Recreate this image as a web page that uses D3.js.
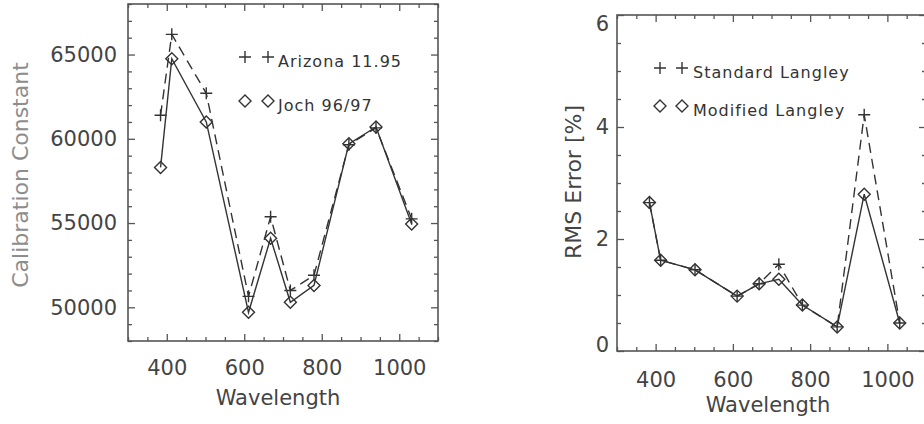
<!DOCTYPE html>
<html><head><meta charset="utf-8">
<script src="https://cdn.jsdelivr.net/npm/d3@7"></script>
<style>
html,body{margin:0;padding:0;background:#fff;}
svg{display:block;font-family:"DejaVu Sans",sans-serif;}
</style></head>
<body><svg id="c" width="924" height="424"></svg>
<script>
// ---- data ----
const wavelengths = [384, 413, 502, 611, 668, 719, 780, 870, 940, 1032];
const arizona     = [61400, 66200, 62700, 50650, 55370, 51000, 51900, 59650, 60650, 55250];
const joch        = [58300, 64750, 61000, 49700, 54100, 50300, 51300, 59700, 60700, 54950];
const standardLangley = [2.65, 1.62, 1.45, 0.98, 1.20, 1.55, 0.82, 0.43, 4.22, 0.50];
const modifiedLangley = [2.65, 1.62, 1.45, 0.98, 1.20, 1.28, 0.82, 0.43, 2.80, 0.50];
const xTicks = [400, 600, 800, 1000];
const leftYTicks = [50000, 55000, 60000, 65000];
const rightYTicks = [0, 2, 4, 6];
const leftLegend = ["Arizona 11.95", "Joch 96/97"];
const rightLegend = ["Standard Langley", "Modified Langley"];

const svg = d3.select("#c");
const ink = "#333", frameCol = "#555", textCol = "#444";

function panel(cfg){
  const g = svg.append("g");
  const x = d3.scaleLinear().domain([300,1100]).range([cfg.x0, cfg.x1]);
  const y = d3.scaleLinear().domain(cfg.ydom).range([cfg.y1, cfg.y0]);
  const minorX = d3.range(300, 1101, 50).filter(v => !xTicks.includes(v));
  const minorY = d3.range(cfg.ydom[0], cfg.ydom[1] + 1e-9, cfg.yminor).filter(v => !cfg.yticks.some(t => Math.abs(t - v) < 1e-9));
  const tickAxes = [
    [d3.axisBottom(x), cfg.y1, 0], [d3.axisTop(x), cfg.y0, 0],
    [d3.axisLeft(y), cfg.x0, 1], [d3.axisRight(y), cfg.x1, 1]
  ];
  tickAxes.forEach(([ax, pos, isY]) => {
    const major = isY ? cfg.yticks : xTicks;
    const minor = isY ? minorY : minorX;
    [[major, 7], [minor, 4]].forEach(([vals, len]) => {
      const a = ax.tickValues(vals).tickSize(-len).tickSizeOuter(0).tickFormat("");
      const gg = g.append("g").attr("transform", isY ? `translate(${pos},0)` : `translate(0,${pos})`).call(a);
      gg.select(".domain").remove();
      gg.selectAll("line").attr("stroke", frameCol).attr("stroke-width", 1.3);
    });
  });
  g.append("rect").attr("x", cfg.x0).attr("y", cfg.y0).attr("width", cfg.x1 - cfg.x0).attr("height", cfg.y1 - cfg.y0)
    .attr("fill", "none").attr("stroke", frameCol).attr("stroke-width", 1.6);
  // labels
  const xl = g.append("g").attr("transform", `translate(0,${cfg.y1})`)
    .call(d3.axisBottom(x).tickValues(xTicks).tickSize(0).tickPadding(cfg.xpad).tickFormat(d3.format("d")));
  xl.select(".domain").remove();
  xl.selectAll("text").attr("font-size", 21).attr("fill", textCol).attr("font-family", "DejaVu Sans");
  const yl = g.append("g").attr("transform", `translate(${cfg.x0},0)`)
    .call(d3.axisLeft(y).tickValues(cfg.yticks).tickSize(0).tickPadding(cfg.ypad).tickFormat(d3.format("d")));
  yl.select(".domain").remove();
  yl.selectAll("text").attr("font-size", 21).attr("fill", textCol).attr("font-family", "DejaVu Sans")
    .attr("transform", d => `translate(0,${(cfg.yshift && cfg.yshift[d]) || 0})`);
  // titles
  g.append("text").attr("x", cfg.xtx).attr("y", cfg.xty).attr("text-anchor", "middle")
    .attr("font-size", 21).attr("fill", textCol).text("Wavelength");
  g.append("text").attr("transform", `translate(${cfg.ytx},${cfg.yty}) rotate(-90)`).attr("text-anchor", "middle")
    .attr("dy", "0.35em").attr("font-size", 22).attr("fill", cfg.ytCol).text(cfg.ytitle);
  // lines
  const line = d3.line().x((d, i) => x(wavelengths[i])).y(d => y(d));
  g.append("path").datum(cfg.s1).attr("d", line).attr("fill", "none").attr("stroke", ink)
    .attr("stroke-width", 1.4).attr("stroke-dasharray", "10,6");
  g.append("path").datum(cfg.s2).attr("d", line).attr("fill", "none").attr("stroke", ink).attr("stroke-width", 1.4);
  const plus = (sel, cx, cy) => sel.append("path").attr("d", `M${cx-6},${cy}H${cx+6}M${cx},${cy-6}V${cy+6}`)
    .attr("stroke", ink).attr("stroke-width", 1.4).attr("fill", "none");
  const diam = (sel, cx, cy) => sel.append("path").attr("d", `M${cx},${cy-6}L${cx+6},${cy}L${cx},${cy+6}L${cx-6},${cy}Z`)
    .attr("stroke", ink).attr("stroke-width", 1.4).attr("fill", "none");
  cfg.s1.forEach((v, i) => plus(g, x(wavelengths[i]), y(v)));
  cfg.s2.forEach((v, i) => diam(g, x(wavelengths[i]), y(v)));
  // legend
  const L = cfg.leg;
  [[L.x1, L.ya], [L.x2, L.ya]].forEach(([lx, ly]) => plus(g, lx, ly));
  [[L.x1, L.yb], [L.x2, L.yb]].forEach(([lx, ly]) => diam(g, lx, ly));
  g.append("text").attr("x", L.tx).attr("y", L.ya + 10).attr("font-size", 16).attr("letter-spacing", "1px")
    .attr("fill", ink).text(cfg.legText[0]);
  g.append("text").attr("x", L.tx).attr("y", L.yb + 10).attr("font-size", 16).attr("letter-spacing", "1px")
    .attr("fill", ink).text(cfg.legText[1]);
}

panel({x0:128, x1:438, y0:4, y1:341, ydom:[48000,68000], yticks:leftYTicks, yminor:1000,
  xpad:19, ypad:11, xtx:278, xty:405, ytx:20, yty:175, ytCol:"#8d8d8d", ytitle:"Calibration Constant",
  s1:arizona, s2:joch, legText:leftLegend, leg:{x1:245, x2:268, ya:57, yb:101, tx:278}});

panel({x0:617, x1:926, y0:15, y1:351, ydom:[0,6], yticks:rightYTicks, yminor:0.5, yshift:{0:-6, 6:9},
  xpad:21, ypad:8, xtx:768, xty:412, ytx:573, yty:182, ytCol:textCol, ytitle:"RMS Error [%]",
  s1:standardLangley, s2:modifiedLangley, legText:rightLegend, leg:{x1:660, x2:682, ya:68, yb:106, tx:693}});
</script></body></html>
